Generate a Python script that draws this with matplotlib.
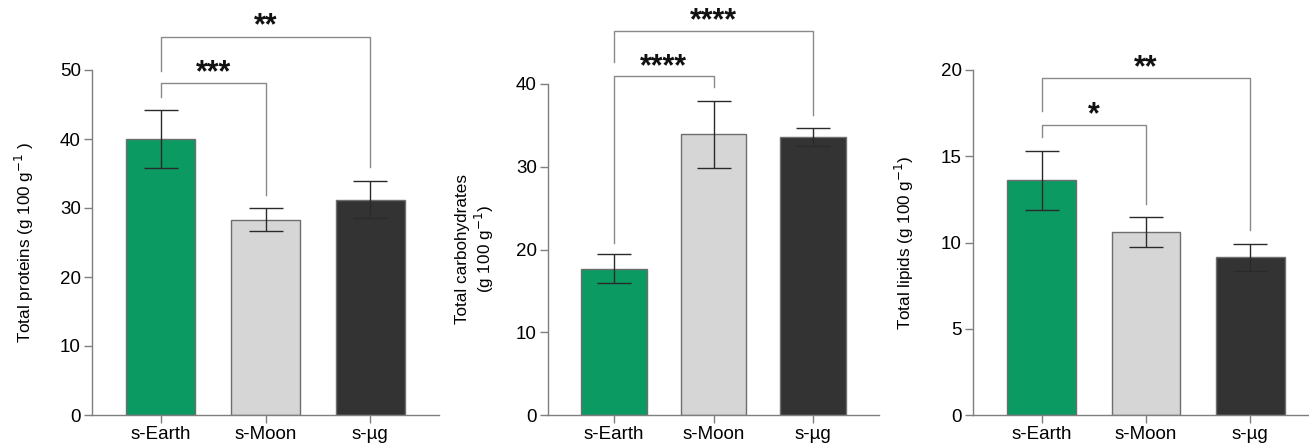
import numpy as np
import matplotlib.pyplot as plt

plt.rcParams['font.family'] = ['Liberation Sans', 'DejaVu Sans']

groups = ['s-Earth', 's-Moon', 's-µg']
colors = ['#0a9a62', '#d6d6d6', '#333333']

proteins = [40.0, 28.3, 31.2]
proteins_err = [4.2, 1.7, 2.7]
carbs = [17.7, 33.9, 33.6]
carbs_err = [1.7, 4.1, 1.05]
lipids = [13.6, 10.6, 9.14]
lipids_err = [1.7, 0.87, 0.78]

# brackets: (i, j, top, left leg bottom, right leg bottom, label, label y)
prot_sig = [(0, 1, 48.1, 46.1, 31.9, '***', 49.6),
            (0, 2, 54.8, 49.9, 36.0, '**', 56.3)]
carb_sig = [(0, 1, 41.0, 20.8, 39.6, '****', 42.0),
            (0, 2, 46.4, 42.6, 36.2, '****', 47.6)]
lip_sig = [(0, 1, 16.8, 16.1, 12.25, '*', 17.4),
           (0, 2, 19.55, 17.6, 10.7, '**', 20.1)]

W, H = 1309, 447
fig = plt.figure(figsize=(W / 100, H / 100), dpi=100)

panels = [
    dict(rect=[92, 415, 439, 70], vals=proteins, err=proteins_err, sig=prot_sig,
         ymax=50, step=10, label='Total proteins (g 100 g$^{-1}$ )', pad=17),
    dict(rect=[548, 415, 879, 84], vals=carbs, err=carbs_err, sig=carb_sig,
         ymax=40, step=10, label='Total carbohydrates\n(g 100 g$^{-1}$)', pad=14),
    dict(rect=[973, 415, 1319, 70], vals=lipids, err=lipids_err, sig=lip_sig,
         ymax=20, step=5, label='Total lipids (g 100 g$^{-1}$)', pad=18),
]

spine_col = '#7f7f7f'
for p in panels:
    x0, y0, x1, y1 = p['rect']
    ax = fig.add_axes([x0 / W, (H - y0) / H, (x1 - x0) / W, (y0 - y1) / H])
    x = np.arange(len(groups))
    ax.bar(x, p['vals'], width=0.66, color=colors, edgecolor='#6e6e6e', linewidth=1, zorder=2)
    ax.errorbar(x, p['vals'], yerr=p['err'], fmt='none', ecolor='#2a2a2a',
                elinewidth=1, capsize=12.5, capthick=1, zorder=3)
    ax.set_xlim(-0.66, 2.66)
    ax.set_ylim(0, p['ymax'])
    ax.set_yticks(np.arange(0, p['ymax'] + 1, p['step']))
    ax.set_xticks(x)
    ax.set_xticklabels(groups, fontsize=13.5)
    ax.tick_params(axis='y', labelsize=13.5, length=6, width=1, color=spine_col, pad=2)
    ax.tick_params(axis='x', length=6, width=1, color=spine_col, pad=2)
    for s in ['top', 'right']:
        ax.spines[s].set_visible(False)
    for s in ['left', 'bottom']:
        ax.spines[s].set_color(spine_col)
        ax.spines[s].set_linewidth(1)
    ax.set_ylabel(p['label'], fontsize=12.3, labelpad=p['pad'])

    for i, j, top, lb, rb, lab, ty in p['sig']:
        ax.plot([i, i, j, j], [lb, top, top, rb], color='#8a8a8a', lw=1,
                clip_on=False, zorder=1)
        ax.text((i + j) / 2, ty, lab, ha='center', va='center', fontsize=22,
                fontweight='bold', color='#111111', clip_on=False)

fig.savefig('out.png', dpi=100)
